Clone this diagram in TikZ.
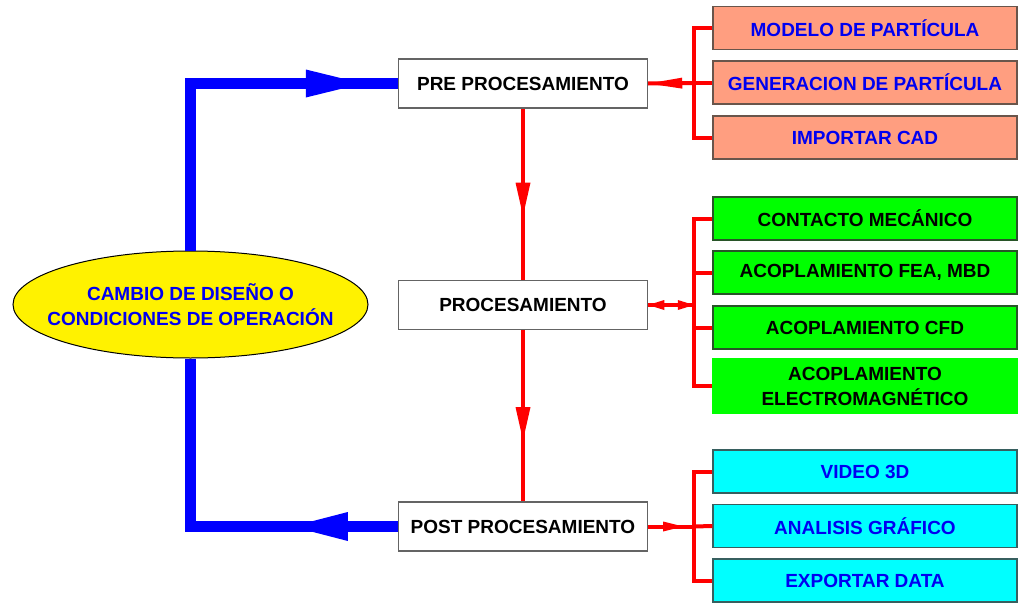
\documentclass[tikz,border=0pt]{standalone}
\usepackage{fontspec}
\setmainfont{Liberation Sans}
\usetikzlibrary{decorations.markings,shapes.geometric}

\definecolor{txtblue}{RGB}{0,0,240}
\definecolor{flowblue}{RGB}{0,0,255}
\definecolor{flowred}{RGB}{255,0,0}
\definecolor{salmonfill}{RGB}{255,158,128}
\definecolor{salmonedge}{RGB}{105,85,75}
\definecolor{greenfill}{RGB}{0,255,0}
\definecolor{greenedge}{RGB}{40,85,40}
\definecolor{cyanfill}{RGB}{0,255,255}
\definecolor{cyanedge}{RGB}{55,95,95}
\definecolor{stageedge}{RGB}{100,100,100}

\tikzset{
  lbl/.style={font=\fontsize{19}{25}\selectfont\bfseries, align=center, inner sep=0pt},
  stagebox/.style={lbl, draw=stageedge, line width=1.3pt, fill=white, text=black,
    minimum width=249pt, minimum height=49pt},
  sidebox/.style={lbl, line width=1.3pt, minimum width=304pt, minimum height=43pt},
  importbox/.style={sidebox, draw=salmonedge, fill=salmonfill, text=txtblue},
  couplebox/.style={sidebox, draw=greenedge, fill=greenfill, text=black},
  outbox/.style={sidebox, draw=cyanedge, fill=cyanfill, text=txtblue},
  loopline/.style={color=flowblue, line width=11pt},
  redline/.style={color=flowred, line width=4pt},
  % filled triangle placed along a path: tip at the mark, #1 = position, #2 = length, #3 = half width
  tri/.style n args={3}{postaction={decorate}, decoration={markings,
    mark=at position #1 with {\fill (0,0) -- (-#2,#3) -- (-#2,-#3) -- cycle;}}},
  % triangles at both ends of a path
  twotri/.style n args={2}{postaction={decorate}, decoration={markings,
    mark=at position 0.1pt with {\fill (0,0) -- (#1,#2) -- (#1,-#2) -- cycle;},
    mark=at position -0.1pt with {\fill (0,0) -- (-#1,#2) -- (-#1,-#2) -- cycle;}}},
}

\begin{document}
\begin{tikzpicture}[x=1pt, y=-1pt]
  \useasboundingbox (0,0) rectangle (1018,605);

  % central chain of stages
  \node[stagebox] (pre)  at (523,83.5) {PRE PROCESAMIENTO};
  \node[stagebox] (proc) at (523,305)  {PROCESAMIENTO};
  \node[stagebox] (post) at (523,526.5) {POST PROCESAMIENTO};

  % design change loop
  \node[ellipse, draw=black, line width=1pt, fill=yellow, inner sep=0pt,
        minimum width=355pt, minimum height=107pt,
        label={[lbl, text=txtblue]center:{CAMBIO DE DISEÑO O\\CONDICIONES DE OPERACIÓN}}]
        (chg) at (190.5,304.5) {};

  % pre-processing inputs
  \node[importbox] (m1) at (865,28)    {MODELO DE PARTÍCULA};
  \node[importbox] (m2) at (865,82.5)  {GENERACION DE PARTÍCULA};
  \node[importbox] (m3) at (865,137.5) {IMPORTAR CAD};

  % coupling options
  \node[couplebox] (g1) at (865,218.5) {CONTACTO MECÁNICO};
  \node[couplebox] (g2) at (865,272.5) {ACOPLAMIENTO FEA, MBD};
  \node[couplebox] (g3) at (865,327.5) {ACOPLAMIENTO CFD};
  \node[couplebox, draw=greenfill, minimum height=54pt] (g4) at (865,386)
        {ACOPLAMIENTO\\ELECTROMAGNÉTICO};

  % post-processing outputs
  \node[outbox] (c1) at (865,471.5) {VIDEO 3D};
  \node[outbox] (c2) at (865,526)   {ANALISIS GRÁFICO};
  \node[outbox] (c3) at (865,580.5) {EXPORTAR DATA};

  % bracket junctions
  \coordinate (sb) at (694,83);
  \coordinate (gb) at (694,305);
  \coordinate (cb) at (694,526.5);

  % blue feedback loop
  \draw[loopline, tri={-35pt}{57pt}{14pt}] (chg.north) |- (pre.west);
  \draw[loopline, tri={106pt}{56pt}{14.5pt}] (post.west) -| (chg.south);

  % stage flow
  \draw[redline, tri={107pt}{33pt}{7.5pt}] (pre.south) -- (proc.north);
  \draw[redline, tri={110pt}{33pt}{7.5pt}] (proc.south) -- (post.north);

  % pre-processing bracket
  \draw[redline] (m1.west) -| (sb) |- (m3.west);
  \draw[redline] (m2.west) -- (m2.west -| sb);
  \draw[redline, tri={-0.1pt}{34pt}{5.5pt}] (sb) -- (pre.east);

  % coupling bracket
  \draw[redline] (g1.west) -| (gb) |- (g4.west);
  \draw[redline] (g2.west) -- (g2.west -| gb);
  \draw[redline] (g3.west) -- (g3.west -| gb);
  \draw[redline, twotri={16pt}{5pt}] (proc.east) -- (gb);

  % output bracket
  \draw[redline] (c1.west) -| (cb) |- (c3.west);
  \draw[redline] (c2.west) -- (cb);
  \draw[redline, tri={35pt}{20pt}{5pt}] (post.east) -- (cb);
\end{tikzpicture}
\end{document}
